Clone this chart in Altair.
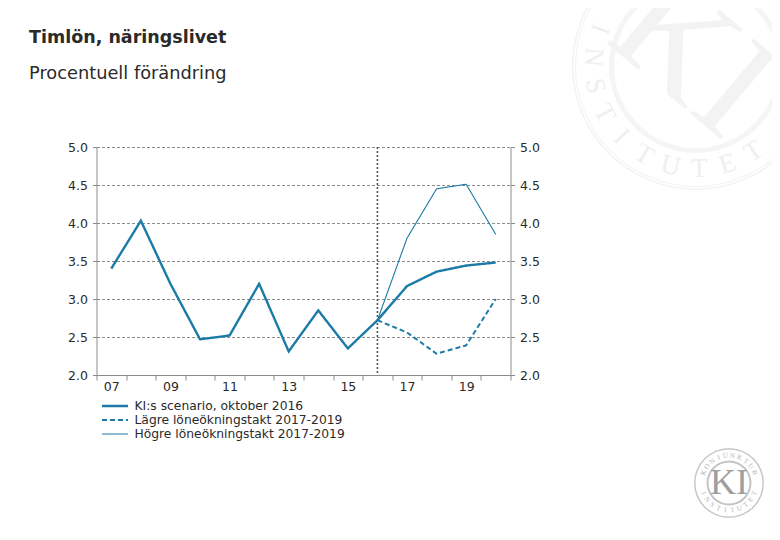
import math
import altair as alt
import pandas as pd

YEARS = [2007, 2008, 2009, 2010, 2011, 2012, 2013, 2014, 2015, 2016, 2017, 2018, 2019, 2020]
MAIN = [3.4, 4.03, 3.2, 2.47, 2.52, 3.2, 2.31, 2.85, 2.35, 2.72, 3.17, 3.36, 3.44, 3.48]
FORECAST_YEARS = [2016, 2017, 2018, 2019, 2020]
LOW = [2.72, 2.56, 2.28, 2.39, 3.0]
HIGH = [2.72, 3.8, 4.45, 4.51, 3.85]
SERIES = ["KI:s scenario, oktober 2016", "Lägre löneökningstakt 2017-2019", "Högre löneökningstakt 2017-2019"]
TITLE = "Timlön, näringslivet"
SUBTITLE = "Procentuell förändring"
BLUE = "#1c7ba6"
GRAY = "#8c8c8c"
TEXT = "#2a2a2a"
FONT = "DejaVu Sans"

rows = [{"year": y, "value": v, "series": SERIES[0]} for y, v in zip(YEARS, MAIN)]
rows += [{"year": y, "value": v, "series": SERIES[1]} for y, v in zip(FORECAST_YEARS, LOW)]
rows += [{"year": y, "value": v, "series": SERIES[2]} for y, v in zip(FORECAST_YEARS, HIGH)]
df = pd.DataFrame(rows)

X0, Y0 = 96.5, 147
W, H = 414, 228
one = alt.Data(values=[{"a": 1}])

tick_values = [2006.5 + k / 2 for k in range(29)]
x_scale = alt.Scale(domain=[2006.5, 2020.5], nice=False, zero=False)
y_vals = [2.0, 2.5, 3.0, 3.5, 4.0, 4.5, 5.0]
y_scale = alt.Scale(domain=[2, 5], nice=False, zero=False)

x_axis = alt.Axis(
    values=tick_values, title=None, grid=False, labelOverlap=False, labelFlush=False,
    labelExpr="(datum.value % 2 == 1) ? substring(toString(datum.value), 2, 4) : ''",
    labelFont=FONT, labelFontSize=12.5, labelColor=TEXT, labelPadding=0, labelAngle=0,
    tickSize=5, tickColor=GRAY, domainColor=GRAY,
    tickOpacity={"condition": {"test": "datum.value % 1 == 0", "value": 0}, "value": 1},
)


def y_axis(orient, grid):
    return alt.Axis(
        orient=orient, values=y_vals, title=None, format=".1f", grid=grid,
        gridColor=GRAY, gridDash=[3, 2], gridWidth=1,
        labelFont=FONT, labelFontSize=12.5, labelColor=TEXT, labelPadding=5,
        tickSize=4, tickColor=GRAY, domainColor=GRAY,
    )


def place_text(txt, x, y, angle, size, color, font="Liberation Serif", align="center", weight="normal"):
    return alt.Chart(one).mark_text(
        text=txt, angle=angle % 360, fontSize=size, font=font, color=color,
        align=align, baseline="middle", fontWeight=weight,
    ).encode(x=alt.value(x - X0), y=alt.value(y - Y0))


def ring(cx, cy, r1, r2, color):
    return alt.Chart(one).mark_arc(
        radius=r2, radius2=r1, theta=0, theta2=2 * math.pi, color=color,
    ).encode(x=alt.value(cx - X0), y=alt.value(cy - Y0))


def arc_letters(text, cx, cy, r, start, stop, size, color, bottom=True):
    out = []
    n = len(text)
    for i, ch in enumerate(text):
        deg = start + (stop - start) * i / (n - 1)
        a = math.radians(deg)
        x, y = cx + r * math.sin(a), cy - r * math.cos(a)
        rot = deg - 180 if bottom else deg
        out.append(place_text(ch, x, y, rot, size, color))
    return out


LOGO = "#b4b4b4"
wm = [
    ring(696, 66, 122.5, 124, "#f2f2f2"), ring(696, 66, 120, 121, "#f2f2f2"),
    ring(696, 66, 82, 87, "#f5f5f5"),
    place_text("KI", 693, 57, 40, 150, "#f3f3f3"),
]
wm += arc_letters("INSTITUTET", 696, 66, 103, 291, 146, 27, "#efefef")
wm += [
    ring(729, 483, 33.5, 35, "#c8c8c8"), ring(729, 483, 20.5, 22.5, "#c4c4c4"),
    place_text("KI", 729, 483, 0, 36, "#9e9e9e"),
]
wm += arc_letters("KONJUNKTUR", 729, 483, 27.5, -68, 68, 7, LOGO, bottom=False)
wm += arc_letters("INSTITUTET", 729, 483, 27.5, 248, 112, 7, LOGO)

heads = [
    place_text(TITLE, 29, 38, 0, 17.5, TEXT, font=FONT, align="left", weight="bold"),
    place_text(SUBTITLE, 29, 74, 0, 17.8, TEXT, font=FONT, align="left"),
]

base = alt.Chart(df)
dash_scale = alt.Scale(domain=SERIES, range=[[1, 0], [5, 3], [1, 0]])
width_scale = alt.Scale(type="ordinal", domain=SERIES, range=[2.4, 2, 1.1])
legend_opts = dict(
    title=None, orient="none", legendX=4, legendY=252, symbolType="stroke",
    symbolSize=680, symbolStrokeColor=BLUE, clipHeight=14, rowPadding=0, labelLimit=320,
    labelFont=FONT, labelFontSize=12.3, labelColor=TEXT, labelOffset=5, padding=0,
)

lines = base.mark_line(color=BLUE, strokeJoin="miter").encode(
    x=alt.X("year:Q", scale=x_scale, axis=x_axis),
    y=alt.Y("value:Q", scale=y_scale, axis=y_axis("left", True)),
    detail="series:N",
    strokeDash=alt.StrokeDash("series:N", scale=dash_scale, sort=SERIES, legend=alt.Legend(**legend_opts)),
    strokeWidth=alt.StrokeWidth("series:N", scale=width_scale, sort=SERIES, legend=alt.Legend(**legend_opts)),
)

vline = alt.Chart(alt.Data(values=[{"year": 2016}])).mark_rule(
    color="#555555", strokeDash=[2, 2], strokeWidth=1.6
).encode(x=alt.X("year:Q", scale=x_scale, axis=x_axis))

left = alt.layer(vline, lines)

right = base.mark_line(opacity=0).encode(
    x=alt.X("year:Q", scale=x_scale, axis=x_axis),
    y=alt.Y("value:Q", scale=y_scale, axis=y_axis("right", False)),
    detail="series:N",
)

chart = alt.layer(*wm, *heads, alt.layer(left, right).resolve_scale(y="independent")).properties(
    width=W, height=H,
    padding={"left": X0 - 8, "top": Y0 - 8, "right": 772 - X0 - W, "bottom": 530 - Y0 - H},
    autosize=alt.AutoSizeParams(type="none"),
    background="white",
).configure_view(stroke=None)

chart.save("out.html", embed_options={"renderer": "svg", "actions": False})
